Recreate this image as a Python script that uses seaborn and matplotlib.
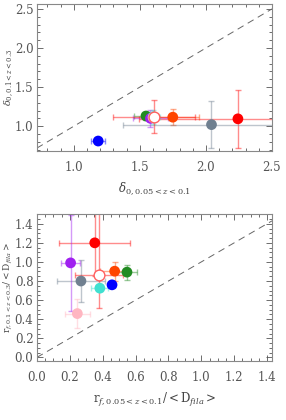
import numpy as np
import pandas as pd
import seaborn as sns
import matplotlib.pyplot as plt

# samples (filled markers), same order in both panels
names = ['blue', 'green', 'orange', 'red', 'gray', 'purple', 'turquoise', 'pink']
colors = ['#0000ff', '#228b22', '#ff4500', '#ff0000', '#708090', '#a020f0', '#40e0d0', '#ffb6c1']

# top panel: delta values
d_low = [1.184, 1.546, 1.749, 2.242, 2.042, 1.58, 1.60, 1.60]
d_low_err = [0.055, 0.09, 0.20, 0.75, 0.67, 0.13, 0.05, 0.04]
d_high = [0.81, 1.13, 1.115, 1.094, 1.02, 1.10, 1.12, 1.11]
d_high_err = [0.015, 0.05, 0.105, 0.37, 0.30, 0.11, 0.09, 0.03]

# bottom panel: r_f / <D_fila>
r_low = [0.457, 0.548, 0.473, 0.352, 0.268, 0.205, 0.383, 0.246]
r_low_err = [0.02, 0.063, 0.09, 0.217, 0.147, 0.056, 0.051, 0.074]
r_high = [0.76, 0.893, 0.903, 1.20, 0.80, 0.99, 0.725, 0.459]
r_high_err = [0.02, 0.08, 0.10, 0.35, 0.22, 0.50, 0.03, 0.153]

# open red circle (all-sample value)
open_d = (1.609, 1.12)
open_d_err = (0.31, 0.21)
open_r = (0.378, 0.858)
open_r_xerr = 0.146
open_r_yerr = ([0.34], [0.70])

sns.set_theme(style="ticks")
plt.rcParams['font.family'] = ['DejaVu Serif']
plt.rcParams['mathtext.fontset'] = 'dejavuserif'

top = pd.DataFrame({'name': names, 'x': d_low, 'xerr': d_low_err, 'y': d_high, 'yerr': d_high_err})
bot = pd.DataFrame({'name': names, 'x': r_low, 'xerr': r_low_err, 'y': r_high, 'yerr': r_high_err})
palette = dict(zip(names, colors))

fig = plt.figure(figsize=(2.86, 4.2), dpi=100)
ax1 = fig.add_axes([0.129, 0.640, 0.822, 0.350])
ax2 = fig.add_axes([0.129, 0.140, 0.822, 0.350])


def draw(ax, df, op, op_xerr, op_yerr):
    ax.axline((0, 0), slope=1, color='#666666', ls=(0, (7, 5)), lw=0.7, zorder=1)
    for _, r in df.iterrows():
        ax.errorbar(r.x, r.y, xerr=r.xerr, yerr=r.yerr, fmt='none', ecolor=palette[r['name']],
                    alpha=0.45, elinewidth=1.0, capsize=2.5, capthick=1.0, zorder=2)
    ax.errorbar(op[0], op[1], xerr=op_xerr, yerr=op_yerr, fmt='none', ecolor='red',
                alpha=0.45, elinewidth=1.0, capsize=2.5, capthick=1.0, zorder=2)
    sns.scatterplot(data=df, x='x', y='y', hue='name', palette=palette, s=60,
                    edgecolor='none', legend=False, ax=ax, zorder=3)
    ax.scatter([op[0]], [op[1]], s=60, facecolor='white', edgecolor='#ff6060', lw=1.0, zorder=3)
    ax.tick_params(which='both', direction='in', top=True, right=True, colors='#555555',
                   labelsize=8.5)
    ax.tick_params(axis='x', pad=7)
    ax.tick_params(axis='y', pad=2.5)
    ax.tick_params(which='major', length=4, width=0.6)
    ax.tick_params(which='minor', length=2, width=0.6)
    for s in ax.spines.values():
        s.set_color('#888888')
        s.set_linewidth(0.8)


draw(ax1, top, open_d, open_d_err[0], open_d_err[1])
ax1.set_xlim(0.72, 2.5)
ax1.set_ylim(0.68, 2.56)
ax1.set_xticks([1.0, 1.5, 2.0, 2.5])
ax1.set_yticks([1.0, 1.5, 2.0, 2.5])
ax1.set_xticks(np.arange(0.8, 2.51, 0.1), minor=True)
ax1.set_yticks(np.arange(0.7, 2.51, 0.1), minor=True)
ax1.set_xlabel(r'$\delta_{0,0.05<z<0.1}$', fontsize=8.5, color='#444444')
ax1.set_ylabel(r'$\delta_{0,0.1<z<0.3}$', fontsize=7, color='#444444')
ax1.yaxis.set_label_coords(-0.092, 0.5)
ax1.xaxis.set_label_coords(0.5, -0.2)

draw(ax2, bot, open_r, open_r_xerr, open_r_yerr)
ax2.set_xlim(0.0, 1.43)
ax2.set_ylim(-0.04, 1.5)
ax2.set_xticks(np.arange(0.0, 1.41, 0.2))
ax2.set_yticks(np.arange(0.0, 1.41, 0.2))
ax2.set_xticks(np.arange(0.0, 1.43, 0.05), minor=True)
ax2.set_yticks(np.arange(0.0, 1.5, 0.05), minor=True)
ax2.set_xlabel(r'$\mathrm{r}_{f,0.05<z<0.1}/<\mathrm{D}_{fila}>$', fontsize=8.5, color='#444444')
ax2.set_ylabel(r'$\mathrm{r}_{f,0.1<z<0.3}/<\mathrm{D}_{fila}>$', fontsize=6.5, color='#444444')
ax2.yaxis.set_label_coords(-0.092, 0.5)
ax2.xaxis.set_label_coords(0.5, -0.2)

fig.savefig('out.png', dpi=100)
